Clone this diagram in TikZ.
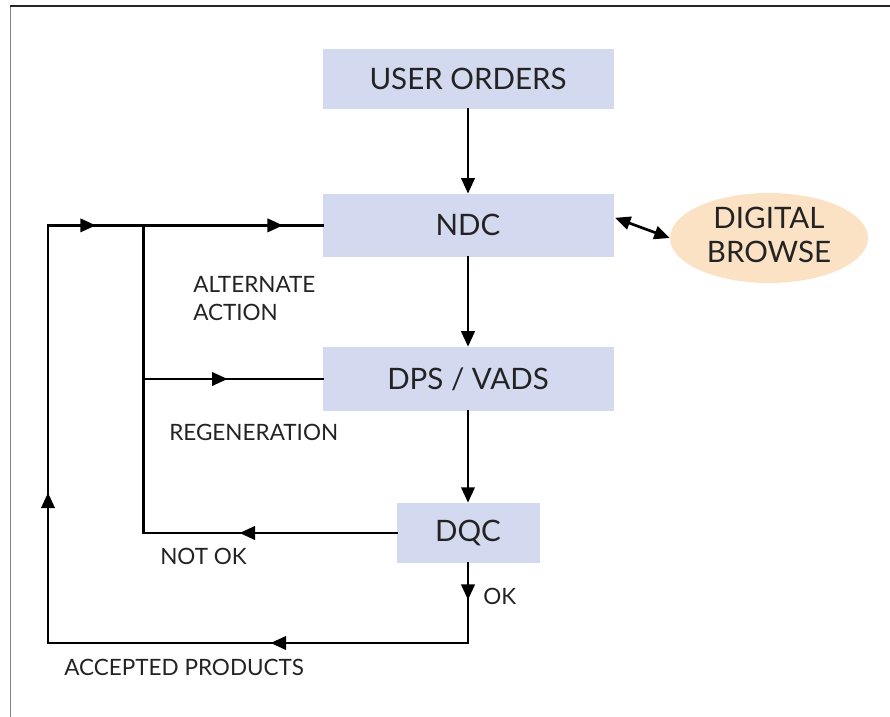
\documentclass[tikz,border=0pt]{standalone}
\usepackage{fontspec}
\setmainfont{Lato}
\usetikzlibrary{arrows.meta,decorations.markings,shapes.geometric}

\definecolor{boxblue}{RGB}{211,217,238}
\definecolor{browsepeach}{RGB}{251,226,196}
\definecolor{textgray}{RGB}{35,35,35}

\tikzset{
    >={Triangle[length=11pt,width=9.5pt]},
    stagebox/.style={fill=boxblue, text=textgray, inner sep=0pt, font=\fontsize{21pt}{26pt}\selectfont},
    flow/.style={line width=1.9pt, line cap=rect},
    arrowat/.style={postaction={decorate}, decoration={markings, mark=at position #1 with {\arrow{>}}}},
    flowlabel/.style={text=textgray, inner sep=0pt, font=\fontsize{16pt}{19.9pt}\selectfont}
}

\begin{document}
\begin{tikzpicture}
    \useasboundingbox (0,0) rectangle (22.25,17.925);
    %frame
    \draw[gray, line width=0.6pt] (0.25,0) -- (0.25,17.775);
    \draw[black!85, line width=0.9pt] (0.25,17.775) -- (22.25,17.775);

    %stages
    \node[stagebox, minimum width=7.275cm, minimum height=1.5cm] (user) at (11.7,15.95) {USER ORDERS};
    \node[stagebox, minimum width=7.275cm, minimum height=1.575cm] (ndc) at (11.7,12.29) {NDC};
    \node[stagebox, minimum width=7.275cm, minimum height=1.6cm] (dps) at (11.7,8.45) {DPS / VADS};
    \node[stagebox, minimum width=3.575cm, minimum height=1.5cm] (dqc) at (11.7,4.6) {DQC};
    \node[ellipse, fill=browsepeach, text=textgray, inner sep=0pt, minimum width=4.95cm, minimum height=2.25cm,
          align=center, font=\fontsize{21pt}{24.1pt}\selectfont] (browse) at (19.225,11.975) {\raisebox{0.17cm}{DIGITAL}\\\raisebox{0.17cm}{BROWSE}};

    %main line
    \draw[flow] [->] (user) -- (ndc);
    \draw[flow] [->] (ndc) -- (dps);
    \draw[flow] [->] (dps) -- (dqc);
    \draw[flow] [<->] ([shift={(0.03,0.19)}]ndc.east) -- (browse.west);

    %feedback loops
    \coordinate (okcorner) at (11.7,1.85);
    \coordinate (outcorner) at (1.2,1.85);
    \coordinate (topcorner) at (1.2,0 |- ndc.west);
    \coordinate (altjoin) at (3.5875,0 |- ndc.west);
    \coordinate (regjoin) at (3.5875,0 |- dps.west);
    \coordinate (notokjoin) at (3.5875,0 |- dqc.west);
    \draw[flow, arrowat=0.46] (dqc.south) -- (okcorner);
    \draw[flow, arrowat=0.47] (okcorner) -- (outcorner);
    \draw[flow, arrowat=0.36] (outcorner) -- (topcorner);
    \draw[flow, arrowat=0.5] (topcorner) -- (altjoin);
    \draw[flow, arrowat=0.78] (altjoin) -- (ndc.west);
    \draw[flow, arrowat=0.62] (dqc.west) -- (notokjoin);
    \draw[flow] (notokjoin) -- (altjoin);
    \draw[flow, arrowat=0.47] (regjoin) -- (dps.west);

    %labels
    \node[flowlabel, anchor=north west, align=left] (altlabel) at (4.825,11.025) {ALTERNATE\\ACTION};
    \node[flowlabel, anchor=base west] (reglabel) at (4.225,6.9) {REGENERATION};
    \node[flowlabel, anchor=base west] (notoklabel) at (4.0,3.8) {NOT OK};
    \node[flowlabel, anchor=base west] (oklabel) at (12.075,2.8) {OK};
    \node[flowlabel, anchor=base west] (acclabel) at (1.6,1.025) {ACCEPTED PRODUCTS};
\end{tikzpicture}
\end{document}
